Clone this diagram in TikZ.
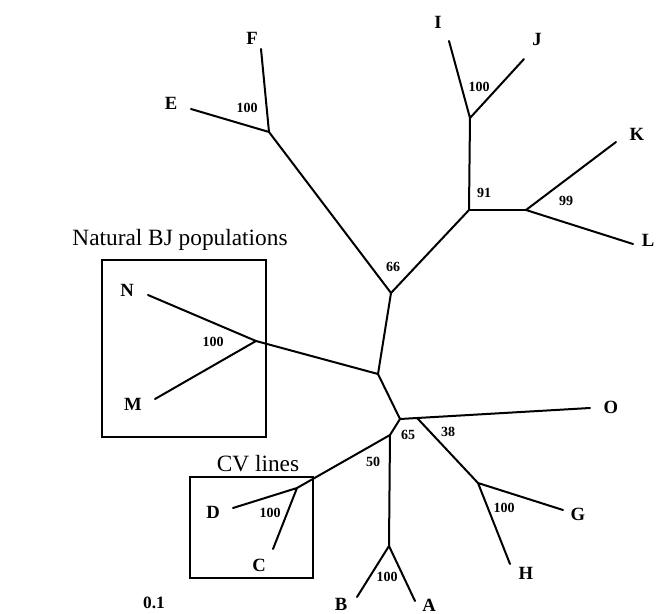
\documentclass[tikz,border=0pt]{standalone}
\usepackage{fontspec}
\setmainfont{Liberation Serif}
\usetikzlibrary{calc}
\begin{document}
\begin{tikzpicture}[x=0.75pt,y=-0.75pt,
  branch/.style={line width=1.5pt,line cap=round,line join=round},
  framebox/.style={line width=1.3pt},
  leaf/.style={font=\fontsize{14}{16}\selectfont\bfseries,inner sep=0pt},
  boot/.style={font=\fontsize{10.5}{12}\selectfont\bfseries,inner sep=0pt},
  grouptitle/.style={font=\fontsize{17.5}{20}\selectfont,inner sep=0pt},
  scalelbl/.style={font=\fontsize{13}{15}\selectfont\bfseries,inner sep=0pt}]
\useasboundingbox (0,0) rectangle (658,614);
% tree points
\coordinate (nEF) at (269,132);
\coordinate (lF) at (261,49);
\coordinate (lE) at (191,109);
\coordinate (n66) at (391,293);
\coordinate (nIJ) at (470,118);
\coordinate (lI) at (449,41);
\coordinate (lJ) at (524,59);
\coordinate (n91) at (469,210);
\coordinate (nKL) at (526,210);
\coordinate (lK) at (616,142);
\coordinate (lL) at (633,244);
\coordinate (nMid) at (378,374);
\coordinate (nMN) at (256,341);
\coordinate (lN) at (148,295);
\coordinate (lM) at (155,399);
\coordinate (nCen) at (400,419);
\coordinate (lO) at (590,408);
\coordinate (n38) at ($(nCen)!0.09!(lO)$);
\coordinate (nGH) at (478,483);
\coordinate (lG) at (563,510);
\coordinate (lH) at (510,564);
\coordinate (n65) at (390,435);
\coordinate (nCD) at (297,488);
\coordinate (lD) at (233,508);
\coordinate (lC) at (273,549);
\coordinate (nAB) at (389,546);
\coordinate (lA) at (415,601);
\coordinate (lB) at (357,597);
% boxes
\draw[framebox] (102,260) rectangle (266,437);
\draw[framebox] (190,477) rectangle (313,578);
% branches
\draw[branch] (lF) -- (nEF) -- (lE);
\draw[branch] (nEF) -- (n66);
\draw[branch] (n66) -- (n91);
\draw[branch] (n66) -- (nMid);
\draw[branch] (n91) -- (nIJ);
\draw[branch] (lI) -- (nIJ) -- (lJ);
\draw[branch] (n91) -- (nKL);
\draw[branch] (lK) -- (nKL) -- (lL);
\draw[branch] (nMid) -- (nMN);
\draw[branch] (lN) -- (nMN) -- (lM);
\draw[branch] (nMid) -- (nCen);
\draw[branch] (nCen) -- (lO);
\draw[branch] (n38) -- (nGH);
\draw[branch] (lG) -- (nGH) -- (lH);
\draw[branch] (nCen) -- (n65);
\draw[branch] (n65) -- (nCD);
\draw[branch] (lD) -- (nCD) -- (lC);
\draw[branch] (n65) -- (nAB);
\draw[branch] (lB) -- (nAB) -- (lA);
% leaf labels
\node[leaf] (tF) at (252,38) {F};
\node[leaf] (tE) at (171,103) {E};
\node[leaf] (tI) at (438,22) {I};
\node[leaf] (tJ) at (537,39) {J};
\node[leaf] (tK) at (637,134) {K};
\node[leaf] (tL) at (648,240) {L};
\node[leaf] (tN) at (127,290) {N};
\node[leaf] (tM) at (133,404) {M};
\node[leaf] (tO) at (611,407) {O};
\node[leaf] (tG) at (578,514) {G};
\node[leaf] (tH) at (526,573) {H};
\node[leaf] (tD) at (213,512) {D};
\node[leaf] (tC) at (259,565) {C};
\node[leaf] (tB) at (341,604) {B};
\node[leaf] (tA) at (429,605) {A};
% bootstrap values
\node[boot] (bEF) at (247,108) {100};
\node[boot] (bIJ) at (479,87) {100};
\node[boot] (b91) at (484,193) {91};
\node[boot] (b99) at (566,201) {99};
\node[boot] (b66) at (393,267) {66};
\node[boot] (bMN) at (213,342) {100};
\node[boot] (b65) at (408,435) {65};
\node[boot] (b38) at (448,432) {38};
\node[boot] (b50) at (373,462) {50};
\node[boot] (bCD) at (270,513) {100};
\node[boot] (bGH) at (504,508) {100};
\node[boot] (bAB) at (387,577) {100};
% titles
\node[grouptitle] (gNat) at (180,240) {Natural BJ populations};
\node[grouptitle] (gCV) at (258,464) {CV lines};
\node[scalelbl] (sc) at (154,603) {0.1};
\end{tikzpicture}
\end{document}
